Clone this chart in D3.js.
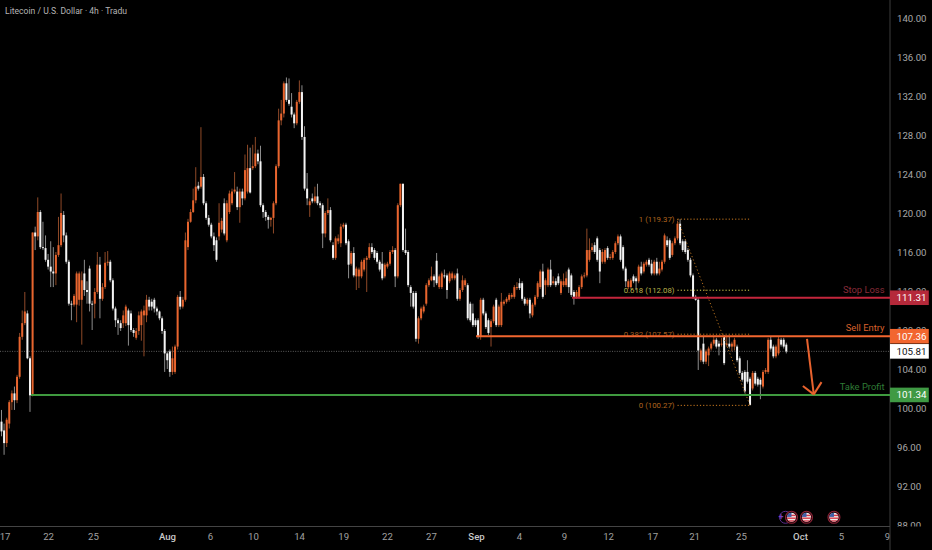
<!DOCTYPE html>
<html><head><meta charset="utf-8">
<script src="https://cdn.jsdelivr.net/npm/d3@7/dist/d3.min.js"></script>
<style>html,body{margin:0;padding:0;background:#000;overflow:hidden}svg{display:block}text{font-family:Roboto,sans-serif}</style>
</head><body><svg id="c" width="932" height="550"></svg>
<script>
const title = "Litecoin / U.S. Dollar · 4h · Tradu";
const opens = [
98.6,97.7,96.4,98.4,100.6,101.5,100.8,103.2,107.3,108.7,
109.7,105.1,101.3,118.0,117.6,120.1,116.5,116.4,115.2,114.5,
114.0,113.8,115.7,116.7,119.8,117.7,115.0,110.7,110.6,110.6,
111.1,111.1,113.8,112.1,114.3,110.7,110.7,111.9,114.7,111.2,
112.4,114.9,115.0,113.1,110.2,109.0,108.7,108.7,108.7,110.0,
109.7,108.0,107.2,107.9,108.5,109.5,109.5,111.1,110.9,111.1,
110.2,109.9,109.2,107.9,105.6,105.8,103.7,103.7,106.3,111.4,
110.4,111.1,116.5,119.1,120.1,121.3,122.8,122.7,123.7,121.0,
119.5,118.8,117.6,117.2,117.6,118.3,121.0,117.2,120.1,121.0,
122.2,122.2,120.6,122.2,121.5,122.2,124.6,124.6,124.8,126.1,
125.3,120.8,120.1,119.6,119.3,119.5,121.0,
124.8,129.5,130.2,133.3,131.6,130.9,130.1,129.2,131.4,132.4,127.8,122.5,
120.8,121.5,121.2,121.7,121.0,120.8,117.9,120.0,120.3,116.7,
115.4,117.1,116.9,118.6,118.8,117.1,114.8,115.9,113.5,113.5,
113.5,114.2,115.2,115.4,116.5,116.2,115.9,115.0,114.8,113.5,
114.5,114.8,116.0,116.2,113.5,120.8,123.0,116.2,116.0,112.4,
111.8,111.8,107.1,109.2,109.9,110.7,112.6,113.1,113.5,115.1,
112.4,112.4,113.6,113.6,113.0,113.3,113.3,113.8,111.2,112.1,
112.6,112.6,110.7,109.7,109.0,109.0,107.3,111.1,109.7,109.0,
108.3,108.9,111.1,108.5,108.5,110.7,110.9,111.1,111.4,111.4,
112.3,112.8,112.8,111.2,110.7,111.1,109.5,110.6,111.4,112.4,
114.0,112.6,112.6,114.2,112.8,113.0,113.5,111.8,112.6,112.6,
114.2,113.6,111.9,111.4,111.4,112.4,113.5,113.6,
115.2,116.2,116.7,117.4,116.2,115.0,115.0,116.4,115.4,115.4,
116.0,116.9,117.6,116.5,114.3,112.4,112.4,113.5,113.3,113.0,
114.5,114.0,114.7,115.2,114.8,113.8,115.0,113.8,114.2,115.0,
117.2,117.2,115.7,116.9,117.4,118.9,117.1,117.1,116.2,115.2,
113.6,111.4,111.1,
104.9,106.6,104.75,105.4,106.1,106.6,107.0,106.6,106.5,107.3,
106.5,106.6,106.3,106.3,106.3,105.1,103.6,103.7,103.7,103.0,
102.0,103.6,103.0,102.9,102.2,103.7,103.7,107.0,106.3,105.3,
105.6,107.0,107.0,106.5];
const highs = [
99.8,98.4,99.0,100.8,101.8,102.2,103.4,107.7,110.0,111.9,
110.0,105.3,118.0,118.6,121.6,120.3,119.1,117.7,115.8,117.1,
116.5,116.0,119.6,122.0,120.2,118.0,115.2,111.0,111.7,114.0,
114.0,114.0,115.2,113.0,114.6,111.0,112.3,116.0,115.5,112.8,
116.0,116.1,115.2,113.3,110.4,109.2,109.0,110.0,110.6,110.2,
110.0,108.2,108.2,109.9,110.1,110.5,111.6,111.4,111.2,111.3,
110.4,110.0,109.4,108.1,105.8,106.0,106.3,106.5,111.6,112.0,
111.4,118.0,119.4,120.4,122.5,124.7,123.2,128.8,124.0,121.2,
119.8,119.0,118.0,117.5,121.0,119.5,121.5,121.3,122.3,122.5,
124.2,122.7,122.5,122.5,126.0,127.0,126.7,127.0,127.8,126.5,
126.9,121.0,120.3,119.8,119.6,121.2,125.0,
130.7,131.6,133.5,133.9,133.8,132.3,130.3,131.6,133.6,133.1,128.9,124.1,
121.5,122.0,122.7,123.0,121.2,121.0,120.2,121.5,120.6,117.0,
117.6,117.8,118.9,119.0,119.0,117.3,116.1,116.5,114.5,114.4,
115.2,115.4,115.6,116.9,116.9,116.4,116.1,115.2,116.0,114.9,
115.0,116.2,116.6,116.4,121.0,123.0,123.0,118.4,116.2,112.6,
112.0,112.0,109.4,110.4,110.6,112.8,113.3,114.5,113.7,115.9,
113.7,114.0,114.2,113.8,114.0,114.0,113.8,114.3,112.3,113.6,
113.3,112.8,110.9,110.7,109.2,109.2,111.3,111.3,109.9,109.2,
109.1,110.6,111.3,110.6,111.8,111.1,111.4,111.8,111.8,112.6,
112.9,113.3,113.0,111.4,111.3,111.3,110.8,111.6,113.0,114.2,
114.8,113.3,114.4,115.2,113.5,113.3,113.8,113.2,113.8,114.0,
114.4,113.8,112.1,112.1,112.6,113.7,113.9,118.4,
117.4,116.9,117.0,117.6,116.4,116.3,116.4,116.6,115.8,116.2,
117.1,117.8,117.8,116.7,114.5,113.2,113.3,113.7,113.5,114.7,
115.0,115.0,115.2,115.4,115.2,115.2,115.4,115.0,115.2,117.9,
117.6,117.4,117.1,117.6,119.2,119.37,117.3,117.3,116.4,115.4,
113.8,111.6,111.3,
106.1,107.3,106.0,106.3,106.8,107.3,107.2,106.9,107.2,107.5,
107.3,107.4,106.8,107.2,106.5,105.3,103.8,103.9,104.9,103.2,
103.8,103.8,103.2,103.1,103.9,104.1,107.2,107.3,106.5,106.5,
107.3,107.2,107.2,106.7];
const lows = [
97.1,95.2,96.0,97.9,99.8,99.8,100.5,103.0,107.0,108.5,
105.0,99.6,101.2,116.2,117.2,116.3,116.2,115.0,114.2,112.4,
112.4,112.6,115.5,116.5,117.0,114.8,110.5,109.0,110.4,108.8,
110.5,106.5,111.5,110.7,109.9,108.0,109.2,111.7,109.2,111.0,
112.2,114.6,112.9,110.0,108.3,107.5,107.9,108.2,108.4,106.4,
107.8,107.3,107.0,107.5,106.9,105.3,108.8,110.0,110.0,109.8,
109.5,109.0,107.6,103.7,104.0,103.2,103.4,103.5,106.0,110.1,
110.2,110.9,116.2,119.0,120.0,121.0,122.3,122.5,120.8,119.3,
118.6,117.4,116.1,115.0,117.2,118.0,117.7,117.0,119.9,120.8,
122.0,120.3,119.0,120.8,121.3,122.0,122.0,124.4,124.6,125.0,
120.6,119.5,119.2,118.4,118.6,117.9,120.8,
124.6,129.0,129.8,131.4,131.0,129.8,128.7,129.0,131.2,127.5,122.3,120.8,
119.6,121.0,121.0,120.8,120.5,116.4,117.5,119.8,117.0,115.2,
115.2,116.8,116.5,118.4,116.7,113.3,114.6,113.4,112.1,112.3,
113.3,114.0,111.9,115.2,115.8,115.2,114.8,114.0,113.1,113.3,
114.3,114.6,115.8,112.4,113.3,120.6,116.0,115.7,112.4,110.4,
110.2,106.8,106.6,109.0,109.7,110.5,112.4,113.0,112.4,112.6,
112.2,112.2,113.3,111.2,112.8,113.1,113.1,111.0,111.0,111.9,
112.4,109.0,108.8,108.3,108.3,107.1,107.0,109.5,108.1,107.5,
106.3,108.7,108.3,108.3,108.3,110.5,110.7,110.9,111.2,111.2,
112.1,112.1,111.0,110.5,110.5,109.2,109.3,110.4,111.2,112.2,
111.2,111.6,112.4,112.4,112.6,112.4,112.6,111.6,112.4,112.4,
111.8,111.4,110.6,111.2,111.2,112.2,113.3,113.4,
115.0,116.0,115.8,115.0,112.8,114.8,114.8,115.2,115.2,115.2,
115.8,116.7,115.0,114.1,112.4,112.2,112.2,112.8,112.1,112.8,
113.6,113.8,114.5,114.5,113.6,113.6,113.6,113.6,114.0,114.8,
116.5,115.2,115.5,116.7,117.2,116.7,116.0,115.8,115.0,113.4,
111.2,111.0,103.9,
104.7,104.5,104.5,104.3,105.9,106.4,106.1,105.4,106.3,104.4,
106.3,106.1,105.8,105.9,104.7,103.4,102.7,101.5,102.5,100.27,
101.8,102.3,102.2,100.9,102.0,103.5,103.5,105.9,105.1,105.1,
105.4,106.3,106.1,105.6];
const closes = [
97.6,96.4,98.8,100.6,101.5,100.8,103.2,107.3,108.7,109.9,
105.1,101.3,118.0,117.6,120.1,116.5,116.4,115.2,114.5,114.0,
113.8,115.7,116.7,120.0,117.7,115.0,110.7,110.6,111.5,113.8,
113.8,113.1,112.1,111.9,110.7,110.6,111.9,114.7,111.2,112.4,
114.9,115.0,113.1,110.2,109.0,108.7,108.2,109.5,110.4,108.5,
108.0,107.7,107.9,109.5,109.9,110.0,111.1,110.4,110.4,110.2,
109.9,109.2,107.9,105.6,104.9,103.7,105.1,106.3,111.4,110.4,
111.1,117.2,119.1,120.1,121.3,122.7,122.5,123.7,121.0,119.5,
118.8,117.6,116.7,115.2,119.0,119.2,117.9,121.0,122.0,122.2,
122.4,120.6,122.2,121.5,124.4,124.6,122.1,124.8,126.1,125.3,
120.8,120.1,119.6,119.3,119.5,121.0,124.8,
129.5,130.2,133.3,131.6,131.2,130.1,129.2,131.4,132.4,127.8,122.5,121.5,
121.2,121.2,121.7,121.0,120.8,117.9,120.0,120.3,117.2,115.4,
117.4,117.4,118.6,118.8,116.9,114.7,115.9,113.6,114.3,114.2,
115.0,115.2,115.4,116.5,116.0,115.4,115.0,114.2,113.3,114.7,
114.8,116.0,116.2,113.5,120.8,123.0,116.2,115.9,112.6,111.8,
110.4,107.1,109.2,110.2,110.4,112.6,113.1,113.5,113.1,112.8,
113.5,113.8,113.5,112.1,113.8,113.8,113.6,111.2,112.1,113.1,
113.1,109.2,109.0,108.5,108.5,107.3,111.1,109.7,108.3,107.7,
108.9,110.4,108.5,110.4,110.9,110.9,111.2,111.6,111.6,112.4,
112.4,112.3,111.2,110.7,111.1,109.7,110.6,111.4,112.8,114.0,
111.4,113.1,114.2,112.6,113.0,112.6,112.8,113.0,113.0,113.3,
112.4,111.6,111.4,111.9,112.4,113.5,113.6,116.2,
116.2,116.5,116.0,115.2,114.0,116.0,116.2,115.4,115.5,116.0,
116.9,117.6,115.2,114.3,113.0,113.0,113.1,113.0,113.0,114.5,
113.8,114.8,115.0,114.7,113.8,115.0,113.8,114.3,115.0,117.7,
116.7,115.4,116.9,117.4,118.9,116.9,116.2,116.0,115.2,113.6,
111.4,111.1,105.9,
105.9,104.75,105.8,106.1,106.6,107.0,106.3,106.3,106.6,104.6,
106.6,106.3,106.6,107.0,104.9,103.6,102.9,101.7,102.7,100.3,
103.6,102.5,102.4,102.4,103.7,103.9,107.0,106.1,105.3,106.3,
107.1,106.5,106.3,105.8];

const priceTicks = [140,136,132,128,124,120,116,112,108,104,100,96,92,88];
const dateBars = [1.2,18,35.3,63.9,80.5,97.1,114.9,131.9,148.8,165.8,183.2,199.8,217.2,234.2,251.2,267.4,285.5,308.3,324.1,341.9];
const dateLabels = ["17","22","25","Aug","6","10","14","19","22","27","Sep","4","9","12","17","21","25","Oct","5","9"];
const monthLabels = ["Aug","Sep","Oct"];

const levelNames = ["Stop Loss","Sell Entry","Take Profit"];
const levelPrices = [111.31,107.36,101.34];
const levelStartBars = [220.3,183.2,11.4];
const currentPrice = 105.81;

const fibRatios = ["1","0.618","0.382","0"];
const fibPrices = [119.37,112.08,107.57,100.27];
const fibBars = [261,289];
const arrowBars = [311,313.6];
const arrowPrices = [107.1,101.4];
const arrowHeadBars = [309.4,316.6];
const arrowHeadPrices = [102.25,102.65];
const eventBars = [305,310.8,321.4];

const W=932,H=550,axisX=890,axisY=526.5;
const x = d3.scaleLinear().domain([0,303]).range([1.5,786.3]);
const y = d3.scaleLinear().domain([88,140]).range([525,18]);
const svg = d3.select("#c");
svg.append("rect").attr("width",W).attr("height",H).attr("fill","#000");
const defs = svg.append("defs");
defs.append("clipPath").attr("id","plot").append("rect").attr("width",axisX).attr("height",axisY);
defs.append("clipPath").attr("id","yclip").append("rect").attr("x",axisX).attr("width",W-axisX).attr("height",axisY);
defs.append("filter").attr("id","soft").append("feGaussianBlur").attr("stdDeviation",0.35);

// price axis
const ya = svg.append("g").attr("clip-path","url(#yclip)").append("g").attr("transform",`translate(${axisX},0)`)
  .call(d3.axisRight(y).tickValues(priceTicks).tickSize(0).tickPadding(7).tickFormat(d=>d.toFixed(2)));
ya.select(".domain").remove();
ya.selectAll("text").attr("fill","#a8a8a8").attr("font-size",9.6).attr("font-family","Roboto");

// date axis
const xa = svg.append("g").attr("transform",`translate(0,${axisY})`)
  .call(d3.axisBottom(x).tickValues(dateBars).tickSize(0).tickPadding(7).tickFormat((d,i)=>dateLabels[i]));
xa.select(".domain").remove();
xa.selectAll("text").attr("font-family","Roboto").attr("font-size",9.6)
  .attr("fill",(d,i)=>monthLabels.includes(dateLabels[i])?"#c8c8c8":"#a0a0a0")
  .attr("font-weight",(d,i)=>monthLabels.includes(dateLabels[i])?500:400);

svg.append("line").attr("x1",axisX).attr("x2",axisX).attr("y1",0).attr("y2",H).attr("stroke","#3d3d3d").attr("stroke-width",1);
svg.append("line").attr("x1",0).attr("x2",axisX).attr("y1",axisY).attr("y2",axisY).attr("stroke","#444").attr("stroke-width",1);

const plot = svg.append("g").attr("clip-path","url(#plot)");
// current price line
plot.append("line").attr("x1",0).attr("x2",axisX).attr("y1",y(currentPrice)).attr("y2",y(currentPrice))
  .attr("stroke","#777").attr("stroke-width",0.8).attr("stroke-dasharray","1 1.4");

// candles
const idx = d3.range(d3.min([opens.length,highs.length,lows.length,closes.length]));
const candles = plot.append("g").attr("filter","url(#soft)");
const isUp = i=>closes[i]>=opens[i];
candles.selectAll("line.w").data(idx).join("line").attr("class","w")
  .attr("x1",x).attr("x2",x).attr("y1",i=>y(highs[i])).attr("y2",i=>y(lows[i]))
  .attr("stroke",i=>isUp(i)?"#8f4a28":"#8c8c8c").attr("stroke-width",1);
candles.selectAll("rect.b").data(idx).join("rect").attr("class","b")
  .attr("x",i=>x(i)-1).attr("width",2)
  .attr("y",i=>y(Math.max(opens[i],closes[i])))
  .attr("height",i=>Math.max(1,Math.abs(y(opens[i])-y(closes[i]))))
  .attr("fill",i=>isUp(i)?"#e8652f":"#f4f4f4");

// fib
const fibColors = ["#b0651f","#b9b34a","#a35c20","#b0651f"];
const fibDotColors = ["#c9791f","#d9d24f","#c9791f","#c9791f"];
fibPrices.forEach((p,i)=>{
  plot.append("line").attr("x1",x(fibBars[0])).attr("x2",x(fibBars[1])).attr("y1",y(p)).attr("y2",y(p))
    .attr("stroke",fibDotColors[i]).attr("stroke-width",1).attr("stroke-dasharray","1.2 2");
  plot.append("text").attr("x",x(fibBars[0])-3).attr("y",y(p)).attr("dy","0.35em").attr("text-anchor","end")
    .attr("font-family","Lato").attr("font-size",7.8).attr("fill",fibColors[i]).text(`${fibRatios[i]} (${p.toFixed(2)})`);
});
plot.append("line").attr("x1",x(fibBars[0])).attr("y1",y(fibPrices[0])).attr("x2",x(fibBars[1])).attr("y2",y(fibPrices[3]))
  .attr("stroke","#b5701f").attr("stroke-width",1).attr("stroke-dasharray","1.2 2.4");

// levels
const levelColors = ["#c4263c","#f2662f","#3f9a3f"];
const levelText = ["#8a2c3a","#d8602c","#2f7a35"];
const boxColors = ["#b5293a","#f2662f","#3f9a44"];
levelPrices.forEach((p,i)=>{
  plot.append("line").attr("x1",x(levelStartBars[i])).attr("x2",axisX).attr("y1",y(p)).attr("y2",y(p))
    .attr("stroke",levelColors[i]).attr("stroke-width",2);
  plot.append("text").attr("x",884.5).attr("y",y(p)-8.5).attr("dy","0.35em").attr("text-anchor","end")
    .attr("font-size",9.4).attr("fill",levelText[i]).text(levelNames[i]);
});

// arrow
const arrowColor="#e8622e";
plot.append("line").attr("x1",x(arrowBars[0])).attr("y1",y(arrowPrices[0])).attr("x2",x(arrowBars[1])).attr("y2",y(arrowPrices[1]))
  .attr("stroke",arrowColor).attr("stroke-width",2);
arrowHeadBars.forEach((b,i)=>{
  plot.append("line").attr("x1",x(b)).attr("y1",y(arrowHeadPrices[i])).attr("x2",x(arrowBars[1])).attr("y2",y(arrowPrices[1]))
    .attr("stroke",arrowColor).attr("stroke-width",2);
});

// event markers
const ev = plot.append("g");
const evY = 517.3;
ev.append("circle").attr("cx",x(eventBars[0])-6).attr("cy",evY).attr("r",6).attr("fill","#000").attr("stroke","#5b2c8c").attr("stroke-width",1);
ev.append("text").attr("x",x(eventBars[0])-10.5).attr("y",evY).attr("dy","0.35em").attr("text-anchor","middle").attr("font-size",9).attr("font-weight",700).attr("fill","#7a3fc0").text("+");
eventBars.forEach((b,k)=>{
  const cx=x(b), id="fl"+k;
  defs.append("clipPath").attr("id",id).append("circle").attr("cx",cx).attr("cy",evY).attr("r",4.6);
  const g=ev.append("g");
  g.append("circle").attr("cx",cx).attr("cy",evY).attr("r",6).attr("fill","#1a0508").attr("stroke","#8c2236").attr("stroke-width",1.1);
  const f=g.append("g").attr("clip-path",`url(#${id})`);
  f.append("rect").attr("x",cx-5).attr("y",evY-5).attr("width",10).attr("height",10).attr("fill","#f1e8e8");
  [-2.6,0.2,3].forEach(d=>f.append("rect").attr("x",cx-5).attr("y",evY+d).attr("width",10).attr("height",1.4).attr("fill","#d8394a"));
  f.append("rect").attr("x",cx-5).attr("y",evY-5).attr("width",5).attr("height",4.6).attr("fill","#3f5fa8");
});

// price boxes
const boxes = levelPrices.map((p,i)=>({p,fill:boxColors[i],txt:"#fff"})).concat([{p:currentPrice,fill:"#fff",txt:"#111"}]);
boxes.forEach(b=>{
  const c = y(b.p);
  svg.append("rect").attr("x",axisX).attr("y",c-7.3).attr("width",38.8).attr("height",14.6).attr("fill",b.fill);
  svg.append("text").attr("x",axisX+6.5).attr("y",c).attr("dy","0.36em").attr("font-size",9.8).attr("fill",b.txt).text(b.p.toFixed(2));
});

// title
svg.append("text").attr("x",5).attr("y",11).attr("dy","0.35em").attr("font-family","Lato").attr("font-size",8.6).attr("fill","#b4b4b4").text(title);
</script></body></html>
